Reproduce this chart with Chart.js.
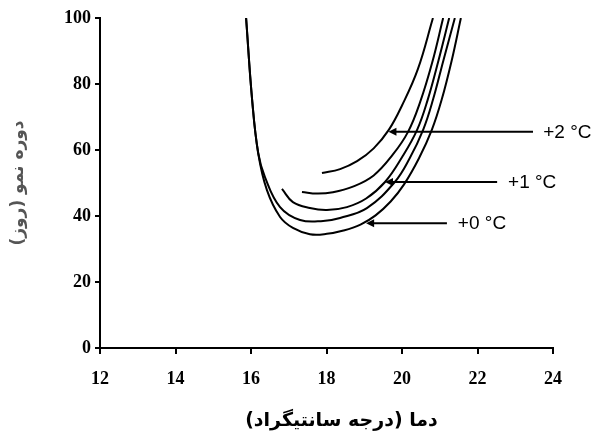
<!DOCTYPE html>
<html lang="fa">
<head>
<meta charset="UTF-8">
<title>دوره نمو</title>
<script src="https://cdn.jsdelivr.net/npm/chart.js"></script>
<style>
    body {
        margin: 0;
        background: #fff;
    }
</style>
</head>
<body>
<canvas id="growthChart" width="602" height="443"></canvas>

<script>
    // growth period (days) against temperature (°C)
    // five warming scenarios, bottom curve (+0) to top curve (+2)
    const temp0 = [15.87, 16.03, 16.19, 16.42, 16.77, 17.11, 17.56, 18.01, 18.45, 18.90, 19.30, 19.70, 20.05, 20.45, 20.79, 21.05, 21.32, 21.56];
    const days0 = [100, 75.2, 59.1, 47.9, 39.7, 36.4, 34.5, 34.6, 35.6, 37.4, 40.2, 44.4, 49.5, 57.5, 66.1, 75.2, 87.3, 100];

    const temp05 = [15.87, 16.03, 16.19, 16.37, 16.77, 17.30, 17.91, 18.36, 19.07, 19.81, 20.20, 20.56, 20.82, 21.10, 21.40];
    const days05 = [100, 75.2, 59.1, 51.8, 42.7, 38.8, 38.5, 39.4, 42.4, 50.3, 57.4, 66.1, 75.2, 87.3, 100];

    const temp1 = [16.82, 17.11, 17.56, 18.01, 18.54, 19.05, 19.55, 20.00, 20.40, 20.68, 20.97, 21.25];
    const days1 = [48.2, 44.2, 42.4, 41.8, 42.7, 45.3, 50.3, 57.8, 66.1, 75.2, 87.3, 100];

    const temp15 = [17.35, 17.75, 18.17, 18.70, 19.25, 19.75, 20.16, 20.48, 20.80, 21.09];
    const days15 = [47.3, 46.8, 47.2, 48.9, 52.3, 58.5, 65.5, 74.5, 86.5, 100];

    const temp2 = [17.88, 18.36, 18.81, 19.25, 19.65, 20.00, 20.42, 20.82];
    const days2 = [53.0, 54.2, 56.6, 60.5, 66.1, 73.5, 84.5, 100];

    // callout arrows: label, tip on the curve, tail end and text start (data units)
    const calloutText = ['+2 °C', '+1 °C', '+0 °C'];
    const calloutDays = [65.5, 50.3, 37.8];
    const calloutTipTemp = [19.64, 19.55, 19.05];
    const calloutTailTemp = [23.47, 22.52, 21.19];
    const calloutTextTemp = [23.74, 22.81, 21.48];

    const xTitle = 'دما (درجه سانتیگراد)\u200F';
    const yTitle = 'دوره نمو (روز)\u200F';

    function toPoints(xs, ys) {
        return xs.map((x, i) => ({ x: x, y: ys[i] }));
    }

    function curve(xs, ys) {
        return {
            data: toPoints(xs, ys),
            showLine: true,
            borderColor: '#000',
            borderWidth: 2,
            pointRadius: 0,
            tension: 0.4,
            fill: false
        };
    }

    // draws the arrows with their labels, and the x axis title
    const calloutPlugin = {
        id: 'callouts',
        afterDatasetsDraw(chart) {
            const ctx = chart.ctx;
            const xs = chart.scales.x;
            const ys = chart.scales.y;
            const area = chart.chartArea;
            ctx.save();
            ctx.strokeStyle = '#000';
            ctx.fillStyle = '#000';
            ctx.lineWidth = 2;
            ctx.font = '19px "Liberation Sans", Arial, sans-serif';
            ctx.textBaseline = 'middle';
            ctx.textAlign = 'left';
            calloutText.forEach((label, i) => {
                const y = ys.getPixelForValue(calloutDays[i]);
                const tip = xs.getPixelForValue(calloutTipTemp[i]);
                const tail = xs.getPixelForValue(calloutTailTemp[i]);
                ctx.beginPath();
                ctx.moveTo(tip + 4, y);
                ctx.lineTo(tail, y);
                ctx.stroke();
                ctx.beginPath();
                ctx.moveTo(tip, y);
                ctx.lineTo(tip + 8, y - 4);
                ctx.lineTo(tip + 8, y + 4);
                ctx.closePath();
                ctx.fill();
                ctx.fillText(label, xs.getPixelForValue(calloutTextTemp[i]), y + 1);
            });

            // x title sits a little right of the plot centre in the original
            ctx.font = 'bold 19px "DejaVu Sans", sans-serif';
            ctx.textAlign = 'center';
            ctx.fillText(xTitle, (area.left + area.right) / 2 + 15, 421);
            ctx.restore();
        }
    };

    const ctx = document.getElementById('growthChart').getContext('2d');
    const growthChart = new Chart(ctx, {
        type: 'scatter',
        data: {
            datasets: [
                curve(temp0, days0),
                curve(temp05, days05),
                curve(temp1, days1),
                curve(temp15, days15),
                curve(temp2, days2)
            ]
        },
        options: {
            responsive: false,
            animation: false,
            devicePixelRatio: 1,
            layout: {
                padding: { left: 4, right: 49, top: 18, bottom: 4 }
            },
            plugins: {
                legend: { display: false },
                tooltip: { enabled: false }
            },
            scales: {
                x: {
                    type: 'linear',
                    min: 12,
                    max: 24,
                    afterFit: (scale) => { scale.height = 91; },
                    ticks: {
                        stepSize: 2,
                        color: '#000',
                        padding: 15,
                        font: { family: '"Liberation Serif", serif', size: 18, weight: 'bold' }
                    },
                    grid: {
                        drawOnChartArea: false,
                        color: '#000',
                        lineWidth: 2,
                        tickLength: 6
                    },
                    border: { color: '#000', width: 2 },
                    title: { display: false }
                },
                y: {
                    type: 'linear',
                    min: 0,
                    max: 100,
                    afterFit: (scale) => { scale.width = 96; },
                    ticks: {
                        stepSize: 20,
                        color: '#000',
                        padding: 4,
                        font: { family: '"Liberation Serif", serif', size: 18, weight: 'bold' }
                    },
                    grid: {
                        drawOnChartArea: false,
                        color: '#000',
                        lineWidth: 2,
                        tickLength: 5
                    },
                    border: { color: '#000', width: 2 },
                    title: {
                        display: true,
                        text: yTitle,
                        color: '#555',
                        padding: { top: 4, bottom: 0 },
                        font: { family: '"DejaVu Sans", sans-serif', size: 17, weight: 'bold' }
                    }
                }
            }
        },
        plugins: [calloutPlugin]
    });
</script>
</body>
</html>
